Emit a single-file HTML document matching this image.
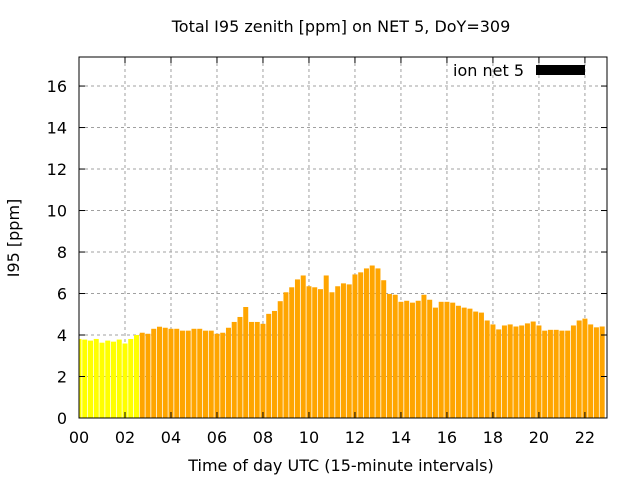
<!DOCTYPE html>
<html><head><meta charset="utf-8"><style>
body{margin:0;background:#fff;width:640px;height:480px;overflow:hidden}
svg text{font-family:"DejaVu Sans","Liberation Sans",sans-serif;font-size:16px;fill:#000}
</style></head><body>
<svg id="chart" width="640" height="480" xmlns="http://www.w3.org/2000/svg">
<rect width="640" height="480" fill="#fff"/>
<text x="341" y="32" text-anchor="middle">Total I95 zenith [ppm] on NET 5, DoY=309</text>
<g id="grid"></g><g id="bars"></g><g id="axes"></g>
<text x="341" y="471" text-anchor="middle">Time of day UTC (15-minute intervals)</text>
<text transform="translate(19,238) rotate(-90)" text-anchor="middle">I95 [ppm]</text>
<g>
<text x="524" y="76" text-anchor="end">ion net 5</text>
<rect x="536" y="65" width="49" height="10" fill="#000"/>
</g>
</svg>
<script>
const values=[3.81,3.78,3.73,3.81,3.63,3.73,3.68,3.78,3.59,3.81,4.0,
4.11,4.06,4.30,4.40,4.35,4.30,4.30,4.21,4.21,4.30,4.30,4.21,4.21,4.06,4.11,4.35,4.63,4.87,5.35,4.63,4.63,4.54,5.02,5.16,5.63,6.06,6.30,6.68,6.87,6.35,6.30,6.21,6.87,6.06,6.35,6.49,6.44,6.92,7.02,7.21,7.35,7.21,6.64,5.98,5.94,5.6,5.65,5.56,5.65,5.94,5.7,5.32,5.6,5.6,5.56,5.41,5.32,5.27,5.13,5.08,4.7,4.51,4.27,4.46,4.51,4.41,4.46,4.56,4.65,4.46,4.21,4.25,4.25,4.21,4.21,4.46,4.70,4.79,4.51,4.37,4.41];
const yellowCount=11;
const yTicks=[0,2,4,6,8,10,12,14,16];
const xTicks=["00","02","04","06","08","10","12","14","16","18","20","22"];
const L=79,R=607,T=57,B=418,yMax=17.4,xMax=22.96;
const sx=h=>L+h*(R-L)/xMax, sy=v=>B-v*(B-T)/yMax;
const NS="http://www.w3.org/2000/svg";
function mk(t,a,p){const e=document.createElementNS(NS,t);for(const k in a)e.setAttribute(k,a[k]);p.appendChild(e);return e;}
const grid=document.getElementById('grid'),bars=document.getElementById('bars'),axes=document.getElementById('axes');
yTicks.forEach(v=>{const y=sy(v);
 if(v>0){const g=mk('line',{x1:L,x2:R,y1:y,y2:y,stroke:'#a0a0a0','stroke-dasharray':'3,3'},grid);
 
 }
 mk('line',{x1:L,x2:L+6,y1:y,y2:y,stroke:'#000'},axes);mk('line',{x1:R-6,x2:R,y1:y,y2:y,stroke:'#000'},axes);
 const t=mk('text',{x:L-12,y:y+6,'text-anchor':'end'},axes);t.textContent=v;
 
 });
xTicks.forEach((s,i)=>{const x=sx(i*2);
 if(i>0){const g=mk('line',{x1:x,x2:x,y1:T,y2:B,stroke:'#a0a0a0','stroke-dasharray':'3,3'},grid);
 
 }
 mk('line',{x1:x,x2:x,y1:B,y2:B-6,stroke:'#000'},axes);mk('line',{x1:x,x2:x,y1:T,y2:T+6,stroke:'#000'},axes);
 const t=mk('text',{x:x,y:443,'text-anchor':'middle'},axes);t.textContent=s;
 
 });
values.forEach((v,i)=>{const cx=sx(i*0.25);let x0=cx-2.5,x1=cx+2.5;x0=Math.max(x0,L);x1=Math.min(x1,R);if(x1<=x0)return;
 const b=mk('rect',{x:x0,y:sy(v),width:x1-x0,height:B-sy(v),fill:i<yellowCount?'#ffff00':'#ffa500'},bars);
 
 });
const f=mk('rect',{x:L,y:T,width:R-L,height:B-T,fill:'none',stroke:'#000'},axes);


</script>
</body></html>
